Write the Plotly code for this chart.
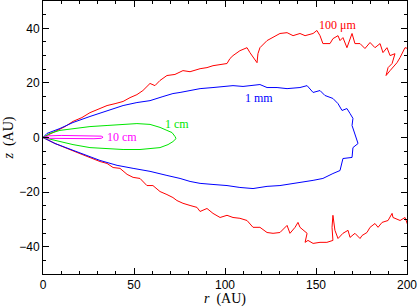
import plotly.graph_objects as go

# 100 micron contour (red) - extends beyond r=200 and is clipped
r_100um = [0, 6.6, 12.1, 16.5, 21.4, 25.8, 30.2, 35.2, 39.6, 44.0, 47.8, 51.6, 54.9, 58.8, 61.5, 64.3,
           68.1, 72.5, 76.9, 80.8, 86.3, 90.1, 93.4, 97.3, 101.1, 102.7, 104.4, 108.2, 112.1, 113.7,
           115.4, 117.6, 118.1, 119.2, 123.1, 126.4, 130.2, 134.1, 137.4, 141.2, 144.0, 148.4, 150.5,
           152.2, 153.8, 157.7, 159.3, 162.1, 163.2, 164.8, 167.0, 169.8, 171.4, 174.2, 176.9, 179.7,
           182.4, 185.2, 186.8, 189.0, 190.7, 193.4, 191.8, 189.6, 188.5, 190.7, 194.5, 196.2, 197.8,
           198.9, 200.5, 212, 212,
           200.5, 198.9, 196.2, 192.3, 191.8, 189.6, 186.3, 184.1, 182.4, 179.7, 178.0, 175.3, 174.2,
           171.4, 168.7, 167.6, 164.8, 162.1, 160.4, 159.3, 158.8, 159.3, 156.0, 152.2, 148.4, 145.6,
           144.0, 145.1, 141.2, 140.1, 138.5, 135.7, 134.1, 130.2, 126.4, 123.1, 119.2, 115.4, 112.1,
           108.2, 104.4, 101.1, 97.3, 93.4, 90.1, 86.3, 84.6, 80.8, 76.9, 73.6, 71.4, 68.1, 64.3, 60.4,
           57.1, 53.3, 49.5, 46.2, 42.3, 38.5, 35.2, 31.3, 27.5, 20.3, 13.2, 6.6, 0]
z_100um = [0, 2.2, 4.0, 5.9, 7.3, 9.1, 10.2, 11.7, 12.4, 13.2, 14.6, 15.7, 17.2, 19.8, 19.0, 20.9,
           22.7, 23.1, 24.5, 24.1, 25.2, 25.6, 26.3, 26.7, 27.1, 28.9, 30.0, 31.8, 32.9, 31.1,
           29.3, 27.4, 30.7, 32.9, 35.5, 36.6, 38.1, 38.4, 37.3, 38.1, 37.3, 38.1, 39.2,
           37.3, 34.4, 34.4, 36.2, 37.3, 35.5, 36.6, 32.9, 38.1, 34.4, 34.4, 32.6, 34.8,
           32.9, 34.4, 31.1, 32.9, 30.0, 30.7, 27.1, 25.6, 22.7, 24.5, 27.4, 29.3, 31.8,
           32.9, 32.6, 32, -31,
           -32.2, -29.3, -30.4, -29.3, -27.8, -30.4, -31.1, -32.9, -31.5, -32.9, -34.8, -35.9, -37.0,
           -35.1, -36.6, -34.0, -35.1, -37.0, -34.0, -28.5, -32.9, -37.7, -38.4, -38.4, -38.8, -37.7,
           -38.4, -35.1, -32.9, -31.1, -32.9, -35.1, -32.2, -34.8, -35.1, -34.8, -32.9, -32.9, -30.4,
           -29.6, -29.3, -28.5, -29.3, -27.8, -26.0, -27.1, -25.6, -24.9, -24.1, -23.1, -22.0, -20.9, -19.8,
           -17.6, -17.6, -15.0, -14.6, -13.5, -11.3, -11.0, -9.5, -8.8, -7.7, -5.9, -4.0, -2.2, 0]

# 1 mm contour (blue)
r_1mm = [0, 2.2, 9.3, 16.5, 25.8, 35.2, 44.0, 51.6, 58.8, 65.9, 71.4, 75.3, 80.8, 86.3, 93.4, 100.0,
         104.4, 109.9, 115.4, 119.2, 123.1, 128.6, 134.1, 141.2, 145.1, 148.4, 152.2, 154.9, 159.3,
         162.1, 164.3, 167.0, 168.7, 170.3, 169.8, 171.4, 172.5, 173.1, 170.3, 169.8, 164.8, 163.2,
         159.3, 153.8, 148.4, 141.2, 135.7, 130.2, 123.1, 115.4, 108.2, 101.1, 93.4, 86.3, 80.8, 75.3,
         68.1, 58.8, 49.5, 40.7, 31.3, 16.5, 6.6, 0]
z_1mm = [0, 1.5, 3.3, 5.5, 7.7, 9.9, 11.7, 12.8, 13.5, 15.0, 16.1, 16.5, 17.2, 17.9, 18.3, 18.7,
         19.0, 18.7, 19.0, 19.4, 18.3, 18.3, 17.9, 18.3, 19.0, 16.5, 17.2, 15.4, 14.3,
         12.4, 9.9, 10.6, 8.8, 7.0, 4.4, 1.5, -1.1, -2.2, -3.7, -7.3, -7.7, -12.1,
         -13.2, -15.0, -15.7, -16.5, -17.2, -17.6, -17.9, -18.7, -18.3, -17.6, -17.2, -16.8, -16.1, -15.0,
         -13.9, -12.4, -11.3, -10.2, -8.4, -4.8, -2.2, 0]

# 1 cm contour (green)
r_1cm = [0, 3.8, 9.3, 16.5, 25.8, 35.2, 44.0, 51.6, 58.8, 64.3, 68.1, 70.9, 72.5, 73.1, 71.4, 68.7,
         64.3, 58.8, 53.3, 44.0, 35.2, 25.8, 16.5, 7.7, 0]
z_1cm = [0, 1.5, 2.6, 3.3, 4.0, 4.4, 4.8, 5.1, 4.8, 3.7, 2.6, 1.8, 0.4, -0.4, -1.5, -2.6,
         -3.7, -4.0, -4.4, -4.4, -4.0, -3.7, -2.6, -1.1, 0]

# 10 cm contour (magenta)
r_10cm = [0, 3, 10, 20, 28, 32, 33, 32, 28, 20, 10, 3, 0]
z_10cm = [0, 0.6, 0.75, 0.75, 0.7, 0.5, 0.1, -0.3, -0.45, -0.45, -0.4, -0.3, 0]

labels = ["100 μm", "1 mm", "1 cm", "10 cm"]
label_r = [162, 118.5, 73.5, 43.5]
label_z = [41.3, 14.6, 5.1, 0.2]

x_ticks = [0, 50, 100, 150, 200]
y_ticks = [-40, -20, 0, 20, 40]

colors = ["#ff0000", "#0000ff", "#00e600", "#ff00ff"]
series = [(r_100um, z_100um), (r_1mm, z_1mm), (r_1cm, z_1cm), (r_10cm, z_10cm)]

fig = go.Figure()
for (rr, zz), c in zip(series, colors):
    fig.add_trace(go.Scatter(x=rr, y=zz, mode="lines", line=dict(color=c, width=1),
                             showlegend=False, hoverinfo="skip"))

for t, xr, yz, c in zip(labels, label_r, label_z, colors):
    fig.add_annotation(x=xr, y=yz, text=t, showarrow=False,
                       font=dict(family="Liberation Serif, DejaVu Serif, serif", size=12, color=c))

axis_common = dict(
    showline=True, linecolor="black", linewidth=1, mirror="ticks",
    ticks="inside", ticklen=6, tickwidth=1, tickcolor="black",
    showgrid=False, zeroline=False,
    tickfont=dict(family="Liberation Sans, Arial, sans-serif", size=12, color="black"),
)

fig.update_xaxes(range=[0, 200], tickvals=x_ticks,
                 minor=dict(ticks="inside", dtick=10, ticklen=3, tickcolor="black", showgrid=False),
                 title=dict(text="<i>r</i>  (AU)", standoff=4,
                            font=dict(family="Liberation Serif, DejaVu Serif, serif", size=14, color="black")),
                 **axis_common)
fig.update_yaxes(range=[-50, 50], tickvals=y_ticks,
                 minor=dict(ticks="inside", dtick=5, ticklen=3, tickcolor="black", showgrid=False),
                 title=dict(text="<i>z</i>  (AU)", standoff=2,
                            font=dict(family="Liberation Serif, DejaVu Serif, serif", size=14, color="black")),
                 **axis_common)

fig.update_layout(width=420, height=307, margin=dict(l=43, r=13, t=1, b=33),
                  paper_bgcolor="white", plot_bgcolor="white")

fig.write_html("out.html", config={"displayModeBar": False},
               post_script="document.body.style.margin='0';")
